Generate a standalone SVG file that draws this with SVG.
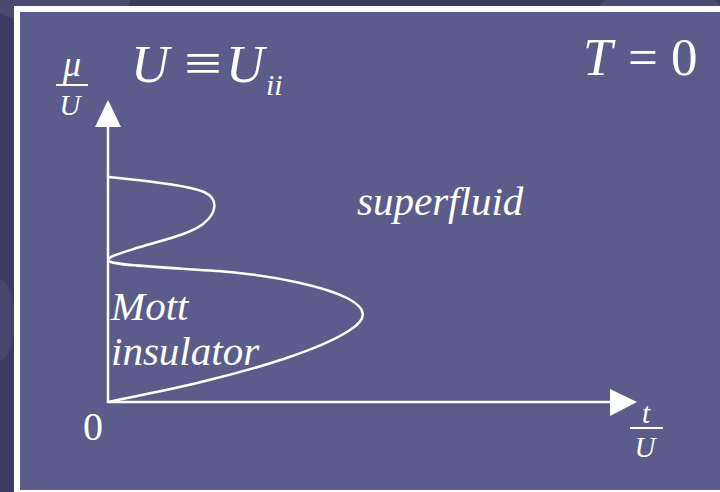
<svg xmlns="http://www.w3.org/2000/svg" width="720" height="492" viewBox="0 0 720 492">
<style>
.t{font-family:'Liberation Serif','Times New Roman','DejaVu Serif',serif;fill:#ffffff}
.i{font-style:italic}
.ln{stroke:#ffffff;fill:none}
.ah{fill:#ffffff}
</style>
<g id="background">
<rect x="0" y="0" width="720" height="492" fill="#3e3d60"/>
<ellipse cx="60" cy="0" rx="70" ry="25" fill="#4a4970"/>
<ellipse cx="660" cy="6" rx="60" ry="14" fill="#4b4a72"/>
<ellipse cx="0" cy="320" rx="14" ry="40" fill="#46456a"/>
</g>
<g id="frame">
<rect x="17" y="9" width="720" height="484" fill="#5b5c8b" stroke="#ffffff" stroke-width="6"/>
</g>
<g id="connectors">
<line class="ln" x1="108" y1="403" x2="108" y2="124" stroke-width="2.5"/>
<polygon class="ah" points="95,127 121,127 108,100"/>
<line class="ln" x1="107" y1="402" x2="613" y2="402" stroke-width="2.5"/>
<polygon class="ah" points="610,389 610,416 637,402"/>
</g>
<g id="phase-boundary">
<path class="ln" stroke-width="2.5" d="M109,177 C150,181 190,186 204,192 C219,199 217,213 203,224 C188,235 163,240 140,247 C118,254 106,257 109,261 C114,266 180,268 230,272 C280,277 325,287 347,298 C368,309 367,319 350,330 C320,350 255,369 205,381 C165,391 125,398 108,402"/>
</g>
<g id="labels">
<text class="t i" x="72" y="76" font-size="36" text-anchor="middle">μ</text>
<line class="ln" x1="56" y1="85" x2="88" y2="85" stroke-width="2"/>
<text class="t i" x="70" y="115" font-size="29" text-anchor="middle">U</text>
<text class="t i" x="131" y="82" font-size="53">U</text>
<text class="t" x="0" y="0" font-size="56" transform="translate(184,82) scale(1.2,1)">≡</text>
<text class="t i" x="226" y="82" font-size="53">U</text>
<text class="t i" x="266" y="95" font-size="30">ii</text>
<text class="t i" x="583" y="75" font-size="53">T</text>
<text class="t" x="628" y="75" font-size="53">=</text>
<text class="t" x="671" y="75" font-size="53">0</text>
<text class="t i" x="357" y="215" font-size="41">superfluid</text>
<text class="t i" x="111" y="320" font-size="41">Mott</text>
<text class="t i" x="111" y="365" font-size="41">insulator</text>
<text class="t" x="83" y="440" font-size="40">0</text>
<text class="t i" x="646" y="423" font-size="29" text-anchor="middle">t</text>
<line class="ln" x1="630" y1="428" x2="663" y2="428" stroke-width="2"/>
<text class="t i" x="645" y="457" font-size="29" text-anchor="middle">U</text>
</g>
</svg>
